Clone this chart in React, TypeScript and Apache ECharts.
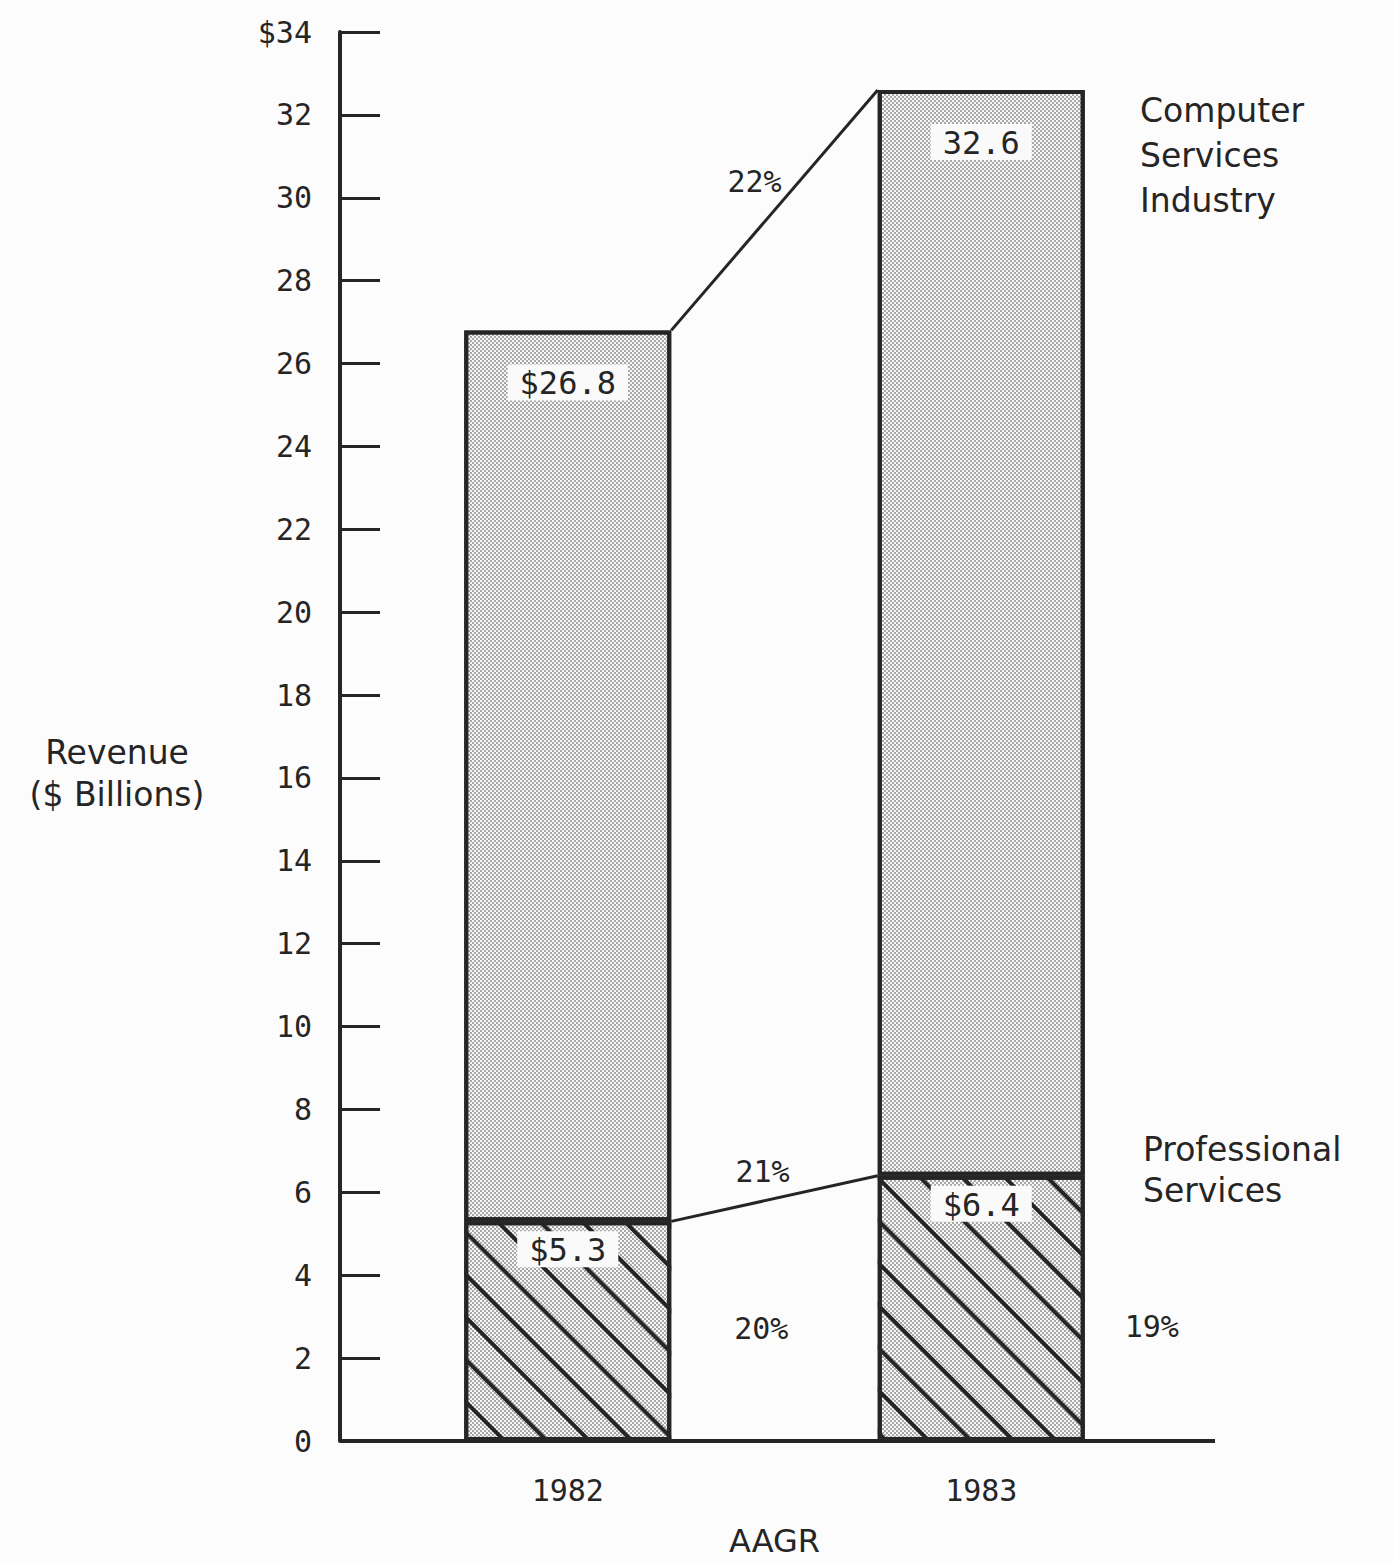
import React, { useEffect, useRef } from "react";
import * as echarts from "echarts";

// Revenue, $ billions
const YEARS = ["1982", "1983"];
const TOTAL = [26.8, 32.6];
const PROFESSIONAL = [5.3, 6.4];
const TOTAL_LABELS = ["$26.8", "32.6"];
const PRO_LABELS = ["$5.3", "$6.4"];
const PRO_SHARE = ["20%", "19%"];
const TOTAL_GROWTH = "22%";
const PRO_GROWTH = "21%";
const Y_MIN = 0;
const Y_MAX = 34;
const Y_STEP = 2;

const INK = "#252525";
const MONO = '"DejaVu Sans Mono", "Liberation Mono", monospace';
const SANS = '"DejaVu Sans", "Noto Sans", sans-serif';
const BAR_WIDTH = 207;

export default function App() {
  const ref = useRef<HTMLDivElement>(null);

  useEffect(() => {
    document.body.style.margin = "0";
    const chart = echarts.init(ref.current!, null, { renderer: "svg" });

    const rest = TOTAL.map((t, i) => +(t - PROFESSIONAL[i]).toFixed(2));

    const dotted = {
      color: "#f6f6f6",
      decal: {
        symbol: "rect",
        symbolSize: 1,
        dashArrayX: [
          [2, 2],
          [0, 2, 2, 0],
        ],
        dashArrayY: [2, 0],
        color: "rgba(60,60,60,0.42)",
      },
    };

    const half = BAR_WIDTH / 2;
    const connector = (text: string, dx: number, dy: number) =>
      function (params: any, api: any) {
        const a = api.coord([api.value(0), api.value(1)]);
        const b = api.coord([api.value(2), api.value(3)]);
        const x1 = a[0] + half;
        const x2 = b[0] - half;
        return {
          type: "group",
          children: [
            {
              type: "line",
              shape: { x1, y1: a[1], x2, y2: b[1] },
              style: { stroke: INK, lineWidth: 3 },
            },
            {
              type: "text",
              x: (x1 + x2) / 2 + dx,
              y: (a[1] + b[1]) / 2 + dy,
              style: {
                text,
                fill: INK,
                font: `30px ${MONO}`,
                align: "center",
                verticalAlign: "middle",
              },
            },
          ],
        };
      };

    chart.setOption({
      animation: false,
      backgroundColor: "#fcfcfc",
      grid: {
        left: 361,
        right: 205,
        top: 32,
        bottom: 122,
        containLabel: false,
        outerBoundsMode: "none",
      },
      xAxis: {
        type: "category",
        data: YEARS,
        axisLine: { show: false },
        axisTick: { show: false },
        axisLabel: {
          margin: 34,
          color: INK,
          fontFamily: MONO,
          fontSize: 30,
        },
        name: "AAGR",
        nameLocation: "middle",
        nameGap: 84,
        nameTextStyle: { color: INK, fontFamily: SANS, fontSize: 32 },
      },
      yAxis: {
        type: "value",
        min: Y_MIN,
        max: Y_MAX,
        interval: Y_STEP,
        offset: 21,
        splitLine: { show: false },
        axisLine: { show: true, lineStyle: { color: INK, width: 4 } },
        axisTick: {
          show: true,
          inside: true,
          length: 40,
          lineStyle: { color: INK, width: 3 },
        },
        axisLabel: {
          margin: 28,
          color: INK,
          fontFamily: MONO,
          fontSize: 30,
          formatter: (v: number) => (v === Y_MAX ? "$" + v : String(v)),
        },
      },
      series: [
        {
          name: "Professional Services",
          type: "bar",
          stack: "revenue",
          barWidth: BAR_WIDTH,
          data: PROFESSIONAL.map((v, i) => ({
            value: v,
            label: {
              show: true,
              position: "right",
              distance: i === 0 ? 63 : 40,
              offset: i === 0 ? [0, -3] : [0, 18],
              formatter: PRO_SHARE[i],
              color: INK,
              fontFamily: MONO,
              fontSize: 30,
            },
          })),
          itemStyle: { ...dotted, borderColor: INK, borderWidth: 4 },
        },
        {
          name: "Computer Services Industry",
          type: "bar",
          stack: "revenue",
          barWidth: BAR_WIDTH,
          data: rest,
          itemStyle: { ...dotted, borderColor: INK, borderWidth: 4 },
          label: {
            show: true,
            position: "insideTop",
            distance: 34,
            formatter: (p: any) => TOTAL_LABELS[p.dataIndex],
            color: INK,
            fontFamily: MONO,
            fontSize: 32,
            backgroundColor: "#fafafa",
            padding: [3, 12, 1, 12],
          },
        },
        {
          // diagonal hatching over the professional-services segment
          name: "Professional Services hatch",
          type: "bar",
          barGap: "-100%",
          barWidth: BAR_WIDTH,
          data: PROFESSIONAL,
          itemStyle: {
            color: "rgba(0,0,0,0)",
            decal: {
              symbol: "rect",
              symbolSize: 1,
              dashArrayX: [1, 0],
              dashArrayY: [4, 26],
              rotation: Math.PI / 4,
              color: INK,
            },
          },
          label: {
            show: true,
            position: "insideTop",
            distance: 10,
            formatter: (p: any) => PRO_LABELS[p.dataIndex],
            color: INK,
            fontFamily: MONO,
            fontSize: 32,
            backgroundColor: "#fafafa",
            padding: [3, 12, 1, 12],
          },
        },
        {
          type: "custom",
          renderItem: connector(TOTAL_GROWTH, -20, -29),
          encode: { x: [0, 2], y: [1, 3] },
          data: [[0, TOTAL[0], 1, TOTAL[1]]],
          z: 5,
        },
        {
          type: "custom",
          renderItem: connector(PRO_GROWTH, -12, -27),
          encode: { x: [0, 2], y: [1, 3] },
          data: [[0, PROFESSIONAL[0], 1, PROFESSIONAL[1]]],
          z: 5,
        },
      ],
      graphic: [
        {
          type: "line",
          shape: { x1: 340, y1: 1441, x2: 1215, y2: 1441 },
          style: { stroke: INK, lineWidth: 4 },
          z: 10,
        },
        {
          type: "text",
          x: 117,
          y: 773,
          style: {
            text: "Revenue\n($ Billions)",
            fill: INK,
            font: `33px ${SANS}`,
            align: "center",
            verticalAlign: "middle",
            lineHeight: 42,
          },
        },
        {
          type: "text",
          x: 1140,
          y: 155,
          style: {
            text: "Computer\nServices\nIndustry",
            fill: INK,
            font: `33px ${SANS}`,
            align: "left",
            verticalAlign: "middle",
            lineHeight: 45,
          },
        },
        {
          type: "text",
          x: 1143,
          y: 1170,
          style: {
            text: "Professional\nServices",
            fill: INK,
            font: `33px ${SANS}`,
            align: "left",
            verticalAlign: "middle",
            lineHeight: 41,
          },
        },
      ],
    });

    return () => chart.dispose();
  }, []);

  return <div ref={ref} style={{ width: 1393, height: 1563 }} />;
}
